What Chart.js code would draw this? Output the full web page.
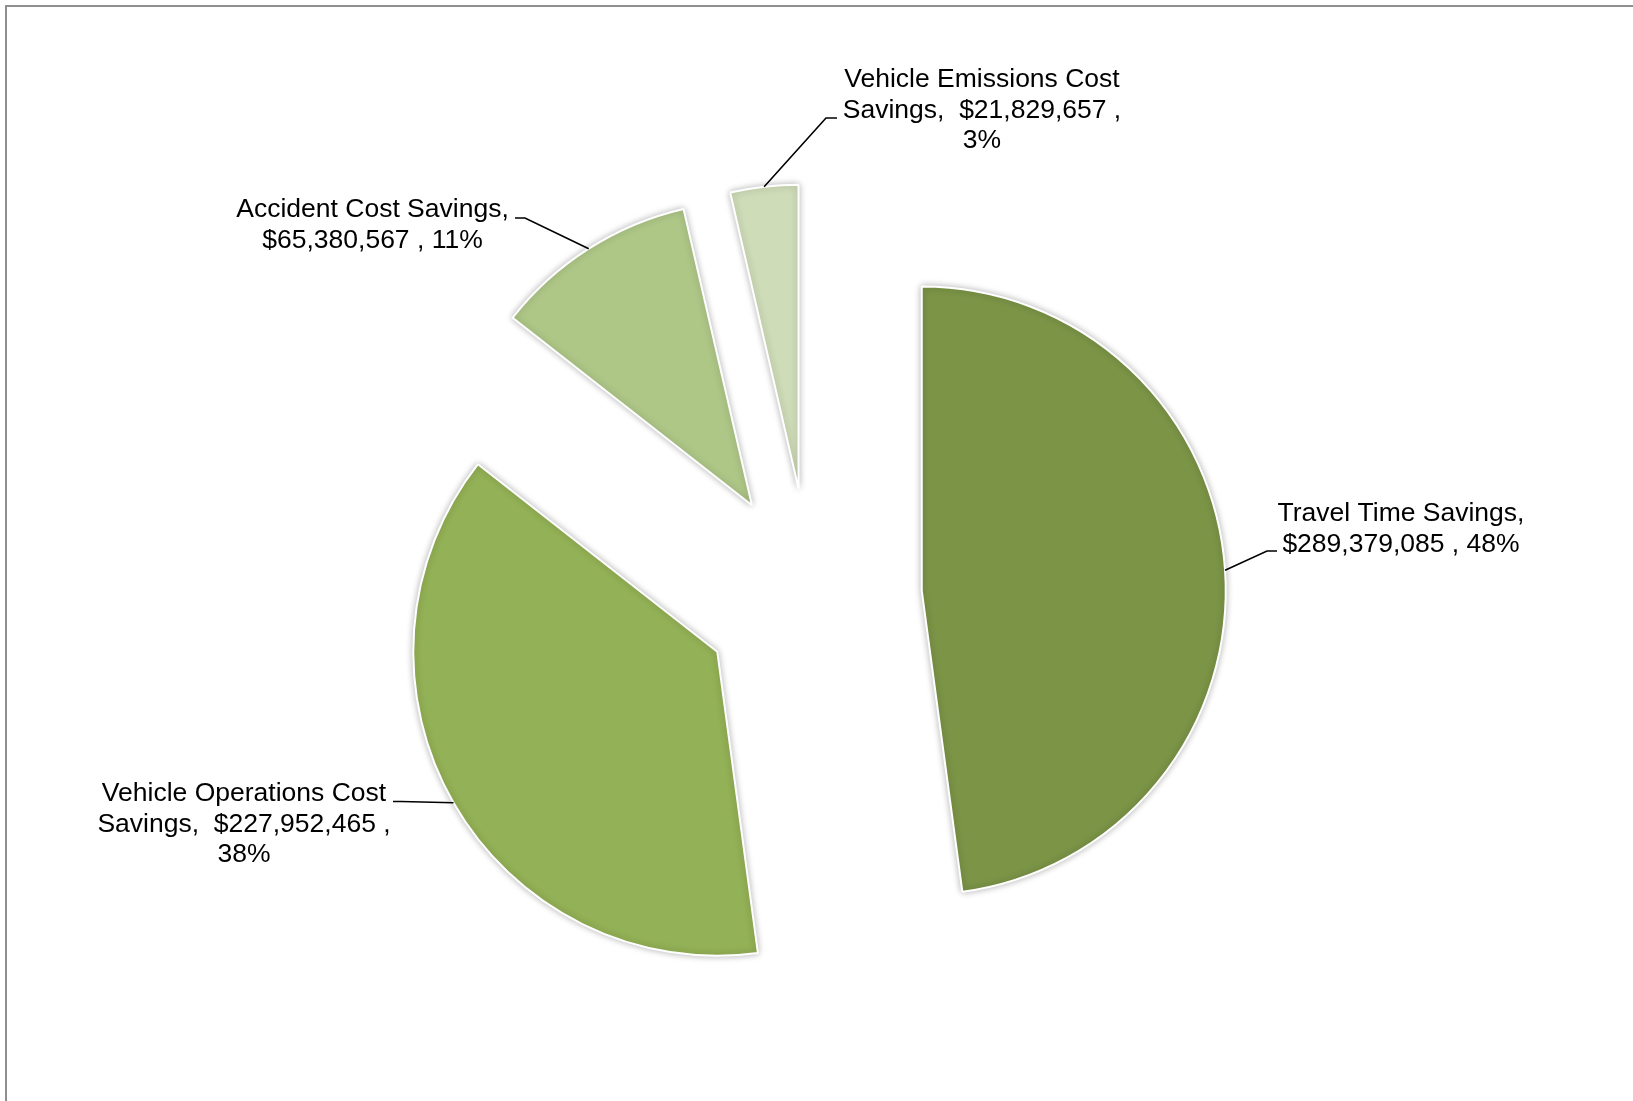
<!DOCTYPE html>
<html>
<head>
<meta charset="utf-8">
<title>Benefit Cost Savings</title>
<script src="https://cdn.jsdelivr.net/npm/chart.js@4.4.1/dist/chart.umd.min.js"></script>
<style>
  html, body { margin: 0; padding: 0; background: #ffffff; overflow: hidden; }
  #frame {
    position: absolute; left: 5px; top: 5px; width: 1700px; height: 1200px;
    border-left: 2px solid #8f8f8f; border-top: 2px solid #8f8f8f;
  }
  #wrap { position: absolute; left: 0; top: 0; width: 1633px; height: 1101px; }
</style>
</head>
<body>
<div id="frame"></div>
<div id="wrap"><canvas id="chart" width="1633" height="1101"></canvas></div>
<script>
// ---- data ----
const categories = [
  'Travel Time Savings',
  'Vehicle Operations Cost Savings',
  'Accident Cost Savings',
  'Vehicle Emissions Cost Savings'
];
const savings = [289379085, 227952465, 65380567, 21829657];
const sliceColors = ['#7b9446', '#93b156', '#aec787', '#cfdcb8'];

// whole-number percentages that add up to 100 (largest remainder)
function percentShares(vals) {
  const total = vals.reduce((a, b) => a + b, 0);
  const raw = vals.map(v => v / total * 100);
  const out = raw.map(Math.floor);
  let left = 100 - out.reduce((a, b) => a + b, 0);
  const order = raw.map((r, i) => [r - Math.floor(r), i]).sort((a, b) => b[0] - a[0]);
  for (let k = 0; k < left; k++) out[order[k][1]] += 1;
  return out;
}
const shares = percentShares(savings);

function labelText(i) {
  return categories[i] + ',  $' + savings[i].toLocaleString('en-US') + ' , ' + shares[i] + '%';
}

// ---- layout of the exploded slices and their callouts ----
const explodeDistance = [111, 108, 110, 110];
const FONT = '26.5px "Liberation Sans", Arial, sans-serif';
const LINE_H = 30.2;
const callouts = [
  { x: 1401, y: 514, maxWidth: 265, elbow: [1267, 551], end: [1277, 551] },
  { x: 244,  y: 794, maxWidth: 300, elbow: [401, 801.5], end: [393, 801.5] },
  { x: 372.5, y: 210, maxWidth: 280, elbow: [525, 218], end: [515, 218] },
  { x: 982,  y: 80,  maxWidth: 295, elbow: [826, 118], end: [837, 118] }
];

function wrapText(ctx, text, maxW) {
  const words = text.split(' ');
  const lines = [];
  let cur = '';
  words.forEach(w => {
    const test = cur === '' ? w : cur + ' ' + w;
    if (ctx.measureText(test.trimEnd()).width > maxW && cur.trim() !== '') {
      lines.push(cur.trimEnd());
      cur = w;
    } else {
      cur = test;
    }
  });
  if (cur.trim() !== '') lines.push(cur.trim());
  return lines.map(l => l.trimStart());
}

// pull each slice away from the centre along its mid-angle
const explodePlugin = {
  id: 'explodeSlices',
  afterDatasetUpdate(chart, args, opts) {
    args.meta.data.forEach((arc, i) => {
      const d = opts.distance[i] || 0;
      const mid = (arc.startAngle + arc.endAngle) / 2;
      arc.x += Math.cos(mid) * d;
      arc.y += Math.sin(mid) * d;
    });
  }
};

// soft shadow round the slices
const shadowPlugin = {
  id: 'sliceShadow',
  beforeDatasetDraw(chart) {
    const ctx = chart.ctx;
    ctx.save();
    ctx.shadowColor = 'rgba(0,0,0,0.28)';
    ctx.shadowBlur = 7;
    ctx.shadowOffsetX = 0;
    ctx.shadowOffsetY = 0;
  },
  afterDatasetDraw(chart) {
    chart.ctx.restore();
  }
};

// leader lines and data labels
const calloutPlugin = {
  id: 'sliceCallouts',
  afterDatasetsDraw(chart) {
    const ctx = chart.ctx;
    const meta = chart.getDatasetMeta(0);
    ctx.save();
    ctx.font = FONT;
    ctx.fillStyle = '#000000';
    ctx.strokeStyle = '#000000';
    ctx.lineWidth = 1.6;
    ctx.textAlign = 'center';
    ctx.textBaseline = 'middle';
    meta.data.forEach((arc, i) => {
      const c = callouts[i];
      const mid = (arc.startAngle + arc.endAngle) / 2;
      const sx = arc.x + Math.cos(mid) * arc.outerRadius;
      const sy = arc.y + Math.sin(mid) * arc.outerRadius;
      ctx.beginPath();
      ctx.moveTo(sx, sy);
      ctx.lineTo(c.elbow[0], c.elbow[1]);
      ctx.lineTo(c.end[0], c.end[1]);
      ctx.stroke();
      wrapText(ctx, labelText(i), c.maxWidth).forEach((ln, k) => {
        ctx.fillText(ln, c.x, c.y + k * LINE_H);
      });
    });
    ctx.restore();
  }
};

new Chart(document.getElementById('chart'), {
  type: 'pie',
  data: {
    labels: categories,
    datasets: [{
      data: savings,
      backgroundColor: sliceColors,
      borderColor: '#ffffff',
      borderWidth: 2
    }]
  },
  options: {
    responsive: false,
    animation: false,
    events: [],
    radius: 304,
    layout: { padding: { left: 0, right: 11, top: 95, bottom: 0 } },
    plugins: {
      legend: { display: false },
      tooltip: { enabled: false },
      explodeSlices: { distance: explodeDistance }
    }
  },
  plugins: [explodePlugin, shadowPlugin, calloutPlugin]
});
</script>
</body>
</html>
